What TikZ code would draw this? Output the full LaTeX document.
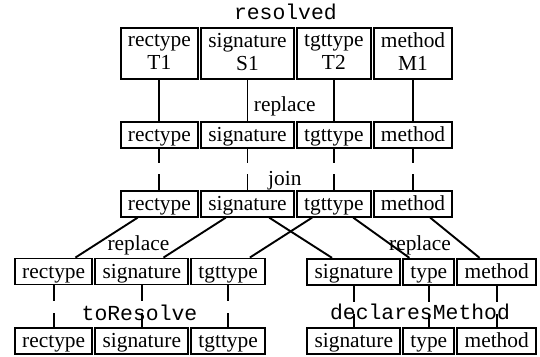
\documentclass[tikz,border=0pt]{standalone}
\usepackage{fontspec}
\setmainfont{Liberation Serif}
\setmonofont{Liberation Mono}
\usetikzlibrary{positioning}
\begin{document}
\begin{tikzpicture}[x=1pt,y=-1pt, line width=1.9pt,
  every node/.style={font=\fontsize{21.4pt}{23.4pt}\selectfont},
  cell/.style={draw, inner xsep=7.2pt, inner ysep=2pt, text height=17.5pt, text depth=4.5pt},
  tall/.style={draw, inner xsep=7.2pt, inner ysep=0pt, minimum height=51pt, align=center},
  lbl/.style={inner sep=0pt, anchor=base},
  mlbl/.style={lbl, font=\fontsize{21.4pt}{23.4pt}\selectfont\ttfamily},
  gapa/.style={dash pattern=on 14.7pt off 10.8pt on 60pt},
  gapb/.style={dash pattern=on 16pt off 12pt on 60pt},
  node distance=1.1pt]
\useasboundingbox (0,0) rectangle (540,356);

% top row (resolved)
\node[tall, anchor=north west] (t1) at (119.75,27.35) {rectype\\T1\rule[-4pt]{0pt}{4pt}};
\node[tall, right=of t1] (t2) {signature\\S1\rule[-4pt]{0pt}{4pt}};
\node[tall, right=of t2] (t3) {tgttype\\T2\rule[-4pt]{0pt}{4pt}};
\node[tall, right=of t3] (t4) {method\\M1\rule[-4pt]{0pt}{4pt}};

% middle row
\node[cell, anchor=base west] (m1) at (119.75,141.2) {rectype};
\node[cell, right=of m1] (m2) {signature};
\node[cell, right=of m2] (m3) {tgttype};
\node[cell, right=of m3] (m4) {method};

% join row
\node[cell, anchor=base west] (j1) at (119.75,210.2) {rectype};
\node[cell, right=of j1] (j2) {signature};
\node[cell, right=of j2] (j3) {tgttype};
\node[cell, right=of j3] (j4) {method};

% lower left
\node[cell, anchor=base west] (a1) at (14.05,278) {rectype};
\node[cell, right=of a1] (a2) {signature};
\node[cell, right=of a2] (a3) {tgttype};

% lower right
\node[cell, anchor=base west] (b1) at (306.4,278.3) {signature};
\node[cell, right=of b1] (b2) {type};
\node[cell, right=of b2] (b3) {method};

% bottom left (toResolve)
\node[cell, anchor=base west] (c1) at (14.05,347.7) {rectype};
\node[cell, right=of c1] (c2) {signature};
\node[cell, right=of c2] (c3) {tgttype};

% bottom right (declaresMethod)
\node[cell, anchor=base west] (d1) at (306.4,347.7) {signature};
\node[cell, right=of d1] (d2) {type};
\node[cell, right=of d2] (d3) {method};

% labels
\node[mlbl] (lres) at (285.4,19.5) {resolved};
\node[lbl] (lrep1) at (284.8,111.5) {replace};
\node[lbl] (ljoin) at (284.8,185) {join};
\node[lbl] (lrep2) at (138.5,250.7) {replace};
\node[lbl] (lrep3) at (420,250.7) {replace};
\node[mlbl] (ltor) at (139.5,320) {toResolve};
\node[mlbl] (ldec) at (420,319.5) {declaresMethod};

% connectors
\foreach \i in {1,...,4} {
  \draw (t\i) -- (m\i);
  \draw[gapa] (m\i) -- (j\i);
}
\draw (j1) -- (a1);
\draw (j2) -- (a2);
\draw (j3) -- (a3);
\draw (j2) -- (b1);
\draw (j3) -- (b2);
\draw (j4) -- (b3);
\foreach \i in {1,2,3} {
  \draw[gapb] (a\i) -- (c\i);
  \draw[gapb] (b\i) -- (d\i);
}
\end{tikzpicture}
\end{document}
